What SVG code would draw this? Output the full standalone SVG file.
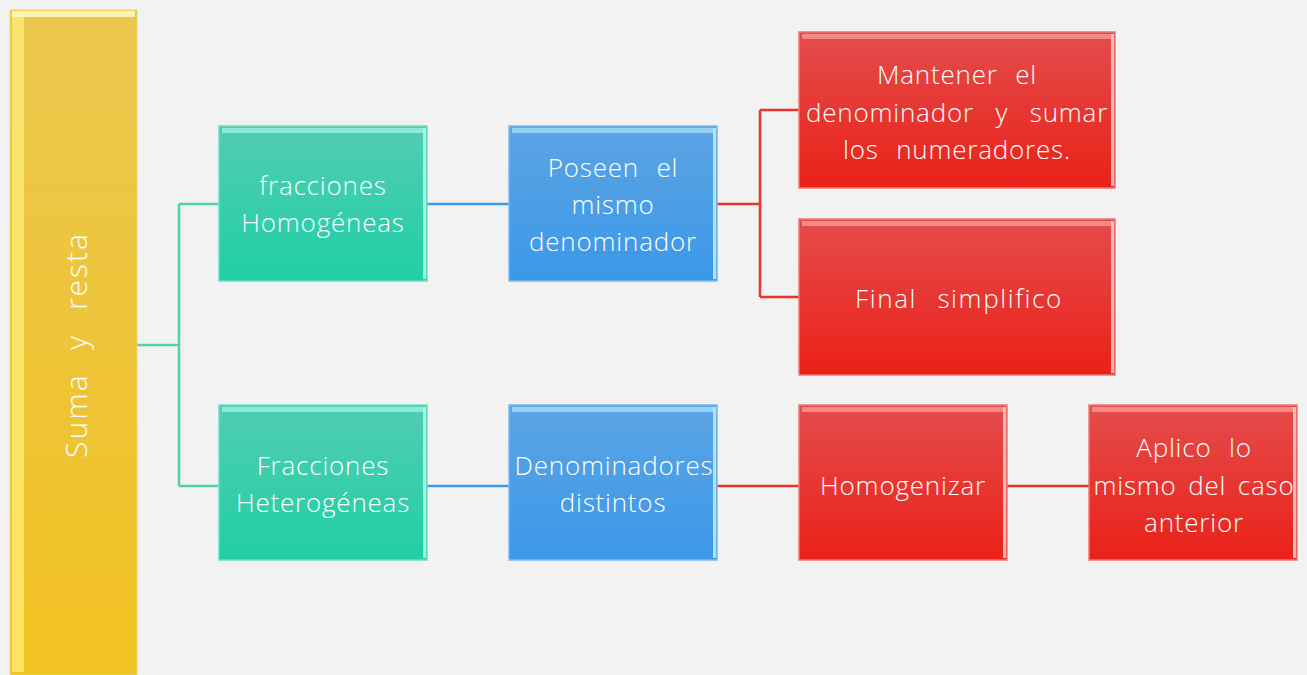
<svg xmlns="http://www.w3.org/2000/svg" width="1307" height="675" viewBox="0 0 1307 675">
<defs>
<linearGradient id="gY" x1="0" y1="0" x2="0" y2="1"><stop offset="0" stop-color="#eac74f"/><stop offset="1" stop-color="#f2c222"/></linearGradient>
<linearGradient id="gG" x1="0" y1="0" x2="0" y2="1"><stop offset="0" stop-color="#52ccb2"/><stop offset="1" stop-color="#20cfa6"/></linearGradient>
<linearGradient id="gB" x1="0" y1="0" x2="0" y2="1"><stop offset="0" stop-color="#5ca4e4"/><stop offset="1" stop-color="#3b98e8"/></linearGradient>
<linearGradient id="gR" x1="0" y1="0" x2="0" y2="1"><stop offset="0" stop-color="#e44c4c"/><stop offset="1" stop-color="#ea2118"/></linearGradient>
</defs>
<style>
.t{font-family:"Open Sans","Liberation Sans",sans-serif;font-weight:300;font-size:26px;fill:#ffffff;text-anchor:middle;letter-spacing:0.8px;word-spacing:10px}
.c{fill:none;stroke-width:2.5}
.teal{stroke:#4fd2b4}
.blue{stroke:#3d9be6}
.red{stroke:#e8342e}
</style>
<rect width="1307" height="675" fill="#f2f2f2"/>
<g id="connectors">
<path class="c teal" d="M137 345H179M179 204V486M179 204H219M179 486H219" stroke-width="3"/>
<path class="c blue" d="M427 204H509M427 486H509"/>
<path class="c red" d="M717 204H760M760 110V297M760 110H799M760 297H799"/>
<path class="c red" d="M717 486H799M1007 486H1089"/>
</g>
<g id="suma">
<rect x="10" y="10" width="127" height="665" fill="url(#gY)" stroke="#f5d560" stroke-width="1"/>
<rect x="12" y="12" width="12" height="660" fill="#fff27a" opacity="0.7"/>
<rect x="12" y="11" width="123" height="6" fill="#fbf8c0" opacity="0.9"/>
<text class="t" transform="translate(87 345) rotate(-90)" style="font-size:30px;letter-spacing:2px;word-spacing:14px">Suma y resta</text>
</g>
<g id="homogeneas">
<rect x="219" y="126" width="208" height="155" fill="url(#gG)" stroke="#6fdcc4" stroke-width="1.5"/>
<rect x="222" y="128" width="202" height="5" fill="#9af3e0" opacity="0.8"/>
<rect x="423" y="128" width="3" height="151" fill="#a8f7ec" opacity="0.9"/>
<text class="t" x="323" y="195">fracciones</text>
<text class="t" x="323" y="232">Homogéneas</text>
</g>
<g id="heterogeneas">
<rect x="219" y="405" width="208" height="155" fill="url(#gG)" stroke="#6fdcc4" stroke-width="1.5"/>
<rect x="222" y="407" width="202" height="5" fill="#9af3e0" opacity="0.8"/>
<rect x="423" y="407" width="3" height="151" fill="#a8f7ec" opacity="0.9"/>
<text class="t" x="323" y="475">Fracciones</text>
<text class="t" x="323" y="512">Heterogéneas</text>
</g>
<g id="mismo">
<rect x="509" y="126" width="208" height="155" fill="url(#gB)" stroke="#7bb8ea" stroke-width="1.5"/>
<rect x="512" y="128" width="202" height="5" fill="#a6dcf8" opacity="0.8"/>
<rect x="713" y="128" width="3" height="151" fill="#b8ecfa" opacity="0.9"/>
<text class="t" x="613" y="177">Poseen el</text>
<text class="t" x="613" y="214">mismo</text>
<text class="t" x="613" y="251">denominador</text>
</g>
<g id="distintos">
<rect x="509" y="405" width="208" height="155" fill="url(#gB)" stroke="#7bb8ea" stroke-width="1.5"/>
<rect x="512" y="407" width="202" height="5" fill="#a6dcf8" opacity="0.8"/>
<rect x="713" y="407" width="3" height="151" fill="#b8ecfa" opacity="0.9"/>
<text class="t" x="614" y="475">Denominadores</text>
<text class="t" x="613" y="512">distintos</text>
</g>
<g id="mantener">
<rect x="799" y="32" width="316" height="156" fill="url(#gR)" stroke="#ec7a78" stroke-width="1.5"/>
<rect x="802" y="34" width="310" height="5" fill="#f59a98" opacity="0.8"/>
<rect x="1111" y="34" width="3" height="152" fill="#f8c8c4" opacity="0.9"/>
<text class="t" x="957" y="84">Mantener el</text>
<text class="t" x="957" y="122" style="word-spacing:14px">denominador y sumar</text>
<text class="t" x="957" y="159">los numeradores.</text>
</g>
<g id="simplifico">
<rect x="799" y="219" width="316" height="156" fill="url(#gR)" stroke="#ec7a78" stroke-width="1.5"/>
<rect x="802" y="221" width="310" height="5" fill="#f59a98" opacity="0.8"/>
<rect x="1111" y="221" width="3" height="152" fill="#f8c8c4" opacity="0.9"/>
<text class="t" x="959" y="308" style="letter-spacing:1.6px;word-spacing:12px">Final simplifico</text>
</g>
<g id="homogenizar">
<rect x="799" y="405" width="208" height="155" fill="url(#gR)" stroke="#ec7a78" stroke-width="1.5"/>
<rect x="802" y="407" width="202" height="5" fill="#f59a98" opacity="0.8"/>
<rect x="1003" y="407" width="3" height="151" fill="#f8c8c4" opacity="0.9"/>
<text class="t" x="903" y="495">Homogenizar</text>
</g>
<g id="aplico">
<rect x="1089" y="405" width="208" height="155" fill="url(#gR)" stroke="#ec7a78" stroke-width="1.5"/>
<rect x="1092" y="407" width="202" height="5" fill="#f59a98" opacity="0.8"/>
<rect x="1293" y="407" width="3" height="151" fill="#f8c8c4" opacity="0.9"/>
<text class="t" x="1194" y="457">Aplico lo</text>
<text class="t" x="1194" y="495" style="word-spacing:4px">mismo del caso</text>
<text class="t" x="1194" y="532">anterior</text>
</g>
</svg>
